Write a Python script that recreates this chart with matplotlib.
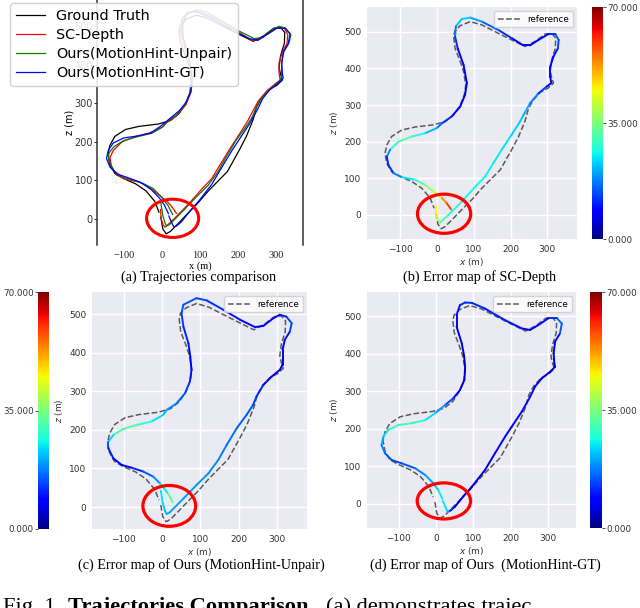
import numpy as np
import matplotlib
matplotlib.use('Agg')
import matplotlib.pyplot as plt
from matplotlib.collections import LineCollection
from matplotlib.patches import Ellipse

# ---------------- data (metres) ----------------
gt_x = [-3, 2, 11, 22, 40, 67, 94, 122, 149, 172, 185, 203, 222, 240, 249, 262, 281, 302, 317, 312,
        308, 312, 322, 323, 312, 294, 267, 240, 203, 167, 122, 90, 63, 48, 45, 49, 63, 72, 78, 74,
        63, 45, 22, -10, -60, -96, -124, -137, -142, -137, -124, -101, -69, -42, -19, -8]
gt_z = [5, -25, -38, -32, -14, 14, 41, 73, 100, 123, 146, 178, 214, 258, 291, 314, 335, 346, 360, 375,
        392, 423, 455, 483, 496, 494, 474, 460, 478, 496, 519, 528, 517, 502, 487, 455, 419, 392, 355, 328,
        300, 273, 255, 246, 240, 232, 214, 191, 168, 141, 118, 105, 91, 73, 46, 18]

sc_x = [-4, -2, 3, 8, 31, 67, 104, 131, 153, 176, 203, 226, 235, 253, 276, 299, 311, 308, 308, 317,
        329, 331, 322, 303, 276, 253, 235, 203, 167, 122, 90, 67, 51, 49, 56, 72, 81, 76, 63, 40,
        13, -1, -33, -69, -105, -128, -137, -133, -119, -96, -60, -33, -10, 13, 26, 38]
sc_z = [25, 0, -15, -21, 0, 36, 77, 105, 141, 178, 219, 255, 272, 305, 332, 351, 360, 378, 405, 433,
        455, 478, 494, 494, 478, 463, 463, 483, 505, 528, 539, 535, 515, 487, 455, 410, 360, 328, 296, 269,
        250, 237, 223, 214, 200, 178, 159, 137, 114, 103, 96, 82, 64, 46, 32, 15]
sc_err = [45, 45, 40, 35, 28, 27, 26, 26, 25, 25, 24, 23, 22, 20, 15, 10, 8, 8, 8, 8,
          12, 15, 14, 10, 8, 6, 8, 10, 14, 17, 22, 24, 20, 14, 10, 8, 8, 7, 8, 10,
          14, 18, 25, 30, 33, 24, 12, 10, 14, 22, 27, 33, 40, 50, 56, 62]

un_x = [-3, 2, 8, 12, 20, 56, 90, 121, 147, 169, 195, 221, 238, 247, 265, 286, 308, 315, 315, 321,
        334, 339, 325, 308, 291, 265, 243, 204, 160, 117, 90, 56, 51, 56, 69, 74, 77, 73, 60, 38,
        12, 3, -27, -66, -101, -127, -140, -140, -127, -105, -79, -49, -23, -5, 16, 28]
un_z = [42, 10, -10, -18, -14, 22, 57, 87, 122, 161, 204, 239, 265, 287, 317, 338, 356, 369, 408, 434,
        455, 477, 494, 499, 490, 470, 467, 486, 512, 536, 542, 525, 503, 468, 425, 390, 356, 326, 295, 269,
        252, 239, 222, 213, 203, 187, 170, 152, 126, 109, 102, 92, 79, 61, 35, 12]
un_err = [25, 24, 22, 22, 20, 20, 19, 19, 18, 17, 16, 15, 14, 12, 10, 7, 6, 6, 7, 8,
          12, 15, 12, 10, 10, 8, 8, 9, 11, 13, 14, 15, 14, 12, 10, 9, 8, 12, 14, 17,
          20, 22, 26, 30, 33, 28, 18, 12, 10, 7, 9, 13, 17, 20, 30, 34]

mh_x = [18, 26, 31, 38, 51, 73, 96, 131, 158, 185, 203, 230, 252, 265, 283, 306, 319, 317, 315, 319,
        332, 337, 324, 301, 274, 252, 230, 185, 131, 96, 78, 64, 55, 55, 69, 75, 78, 76, 64, 46,
        24, -3, -29, -65, -101, -128, -141, -146, -137, -119, -92, -56, -29, -7, 6, 17]
mh_z = [8, -10, -20, -18, -7, 20, 46, 90, 135, 179, 206, 246, 285, 312, 334, 352, 365, 374, 401, 432,
        454, 480, 494, 494, 476, 463, 467, 489, 520, 535, 536, 529, 503, 472, 427, 395, 365, 330, 303, 281,
        263, 241, 223, 215, 210, 197, 179, 157, 135, 117, 108, 95, 77, 55, 37, 14]
mh_err = [25, 25, 24, 15, 5, 4, 5, 7, 8, 8, 8, 9, 10, 9, 8, 6, 4, 5, 5, 7,
          12, 18, 14, 10, 9, 8, 10, 10, 11, 11, 12, 11, 9, 7, 5, 4, 4, 5, 6, 10,
          17, 22, 27, 30, 30, 27, 22, 19, 16, 14, 13, 16, 19, 21, 24, 26]

legend_labels = ['Ground Truth', 'SC-Depth', 'Ours(MotionHint-Unpair)', 'Ours(MotionHint-GT)']
captions = ['(a) Trajectories comparison', '(b) Error map of SC-Depth',
            '(c) Error map of Ours (MotionHint-Unpair)', '(d) Error map of Ours  (MotionHint-GT)']
err_ticks = [0, 35, 70]
ticks_x = [-100, 0, 100, 200, 300]
ticks_z = [0, 100, 200, 300, 400, 500]
# highlight ellipses: centre x, centre z, width, height
ell_a = [28, 2, 137, 99]
ell_b = [19, 3, 145, 107]
ell_c = [19, 3, 138, 106]
ell_d = [21, 8, 143, 96]

# ---------------- figure ----------------
W, H = 640, 608
plt.rcParams['font.family'] = ['DejaVu Sans']
fig = plt.figure(figsize=(W / 100, H / 100), dpi=100)
SERIF = 'Liberation Serif'


def rect(l, t, r, b):
    return [l / W, 1 - b / H, (r - l) / W, (b - t) / H]


# ---- panel (a)
ax = fig.add_axes(rect(97, 0, 303, 245))
ax.plot(gt_x, gt_z, color='black', lw=0.9, label=legend_labels[0])
ax.plot(sc_x, sc_z, color='red', lw=0.9, label=legend_labels[1])
ax.plot(un_x, un_z, color='green', lw=0.9, label=legend_labels[2])
ax.plot(mh_x, mh_z, color='blue', lw=0.9, label=legend_labels[3])
ax.add_patch(Ellipse((ell_a[0], ell_a[1]), ell_a[2], ell_a[3], fill=False, ec='red', lw=2.2, zorder=5))
ax.set_xlim(-171, 371)
ax.set_ylim(-67, 567)
ax.set_xticks(ticks_x)
ax.set_yticks(ticks_z)
for s in ['top', 'bottom']:
    ax.spines[s].set_visible(False)
for s in ['left', 'right']:
    ax.spines[s].set_color('#333333')
    ax.spines[s].set_linewidth(1.1)
ax.tick_params(axis='y', length=2, pad=1, labelsize=7, colors='#333333')
ax.tick_params(axis='x', length=0, pad=4, labelsize=7.5, colors='#222222')
for lbl in ax.get_xticklabels():
    lbl.set_fontfamily(SERIF)
ax.set_xlabel('x (m)', fontsize=7.5, family=SERIF, labelpad=1)
ax.set_ylabel('z (m)', fontsize=7, labelpad=0)
ax.legend(loc='upper left', bbox_to_anchor=(10 / W, 1 - 3 / H), bbox_transform=fig.transFigure,
          fontsize=10.4, labelspacing=0.35, framealpha=0.88, edgecolor='#cccccc', borderaxespad=0)


def err_panel(r, cr, left_cbar, ex, ez, err, xl, zl, ell):
    ax = fig.add_axes(rect(*r))
    ax.set_facecolor('#EAEAF2')
    for s in ax.spines.values():
        s.set_visible(False)
    ax.grid(True, color='white', lw=1.0)
    ax.set_axisbelow(True)
    ax.plot(gt_x, gt_z, '--', color='#5a5a5a', lw=1.1, label='reference', zorder=2)
    pts = np.column_stack([ex, ez])
    segs = np.stack([pts[:-1], pts[1:]], axis=1)
    e = np.asarray(err, dtype=float)
    lc = LineCollection(segs, cmap='jet', norm=plt.Normalize(0, 70), lw=1.4,
                        capstyle='round', joinstyle='round', zorder=3)
    lc.set_array((e[:-1] + e[1:]) / 2)
    ax.add_collection(lc)
    ax.add_patch(Ellipse((ell[0], ell[1]), ell[2], ell[3], fill=False, ec='red', lw=2.3, zorder=5))
    ax.set_xlim(*xl)
    ax.set_ylim(*zl)
    ax.set_xticks(ticks_x)
    ax.set_yticks(ticks_z)
    ax.tick_params(length=0, pad=4, labelsize=6.5, colors='#333333')
    ax.set_xlabel('$x$ (m)', fontsize=6.5, color='#333333', labelpad=1.5)
    ax.set_ylabel('$z$ (m)', fontsize=6.5, color='#333333', labelpad=3)
    ax.legend(loc='upper right', fontsize=6.3, framealpha=0.8, edgecolor='#cccccc',
              handlelength=2.6)
    cax = fig.add_axes(rect(*cr))
    cb = fig.colorbar(lc, cax=cax, ticks=err_ticks, format='%.3f')
    cb.outline.set_visible(False)
    cax.tick_params(length=2, width=0.6, labelsize=6.3, colors='#333333', pad=1)
    if left_cbar:
        cax.yaxis.set_ticks_position('left')
        cax.yaxis.set_label_position('left')
    return ax


err_panel((367, 7, 577, 239), (592, 7, 603, 239), False, sc_x, sc_z, sc_err, (-191, 381), (-66, 568), ell_b)
err_panel((92, 292, 307, 529), (38, 292, 49, 529), True, un_x, un_z, un_err, (-183, 379), (-57, 558), ell_c)
err_panel((367, 292, 576, 528), (590, 292, 602, 528), False, mh_x, mh_z, mh_err, (-185, 375), (-64, 564), ell_d)

# captions
cap_pos = [(199, 277), (480, 277), (201, 565), (485, 565)]
for (cx, cy), t in zip(cap_pos, captions):
    fig.text(cx / W, 1 - cy / H, t, ha='center', va='center', family=SERIF, fontsize=10.2)

# figure caption line (cut off at the bottom edge, as in the source)
base = 1 - 612 / H
fig.text(3 / W, base, 'Fig. 1.', ha='left', va='baseline', family=SERIF, fontsize=16.2)
fig.text(68 / W, base, 'Trajectories Comparison.', ha='left', va='baseline', family=SERIF,
         fontsize=16.2, fontweight='bold')
fig.text(326 / W, base, '(a) demonstrates trajec', ha='left', va='baseline', family=SERIF,
         fontsize=16.2)

fig.savefig('out.png', dpi=100)
